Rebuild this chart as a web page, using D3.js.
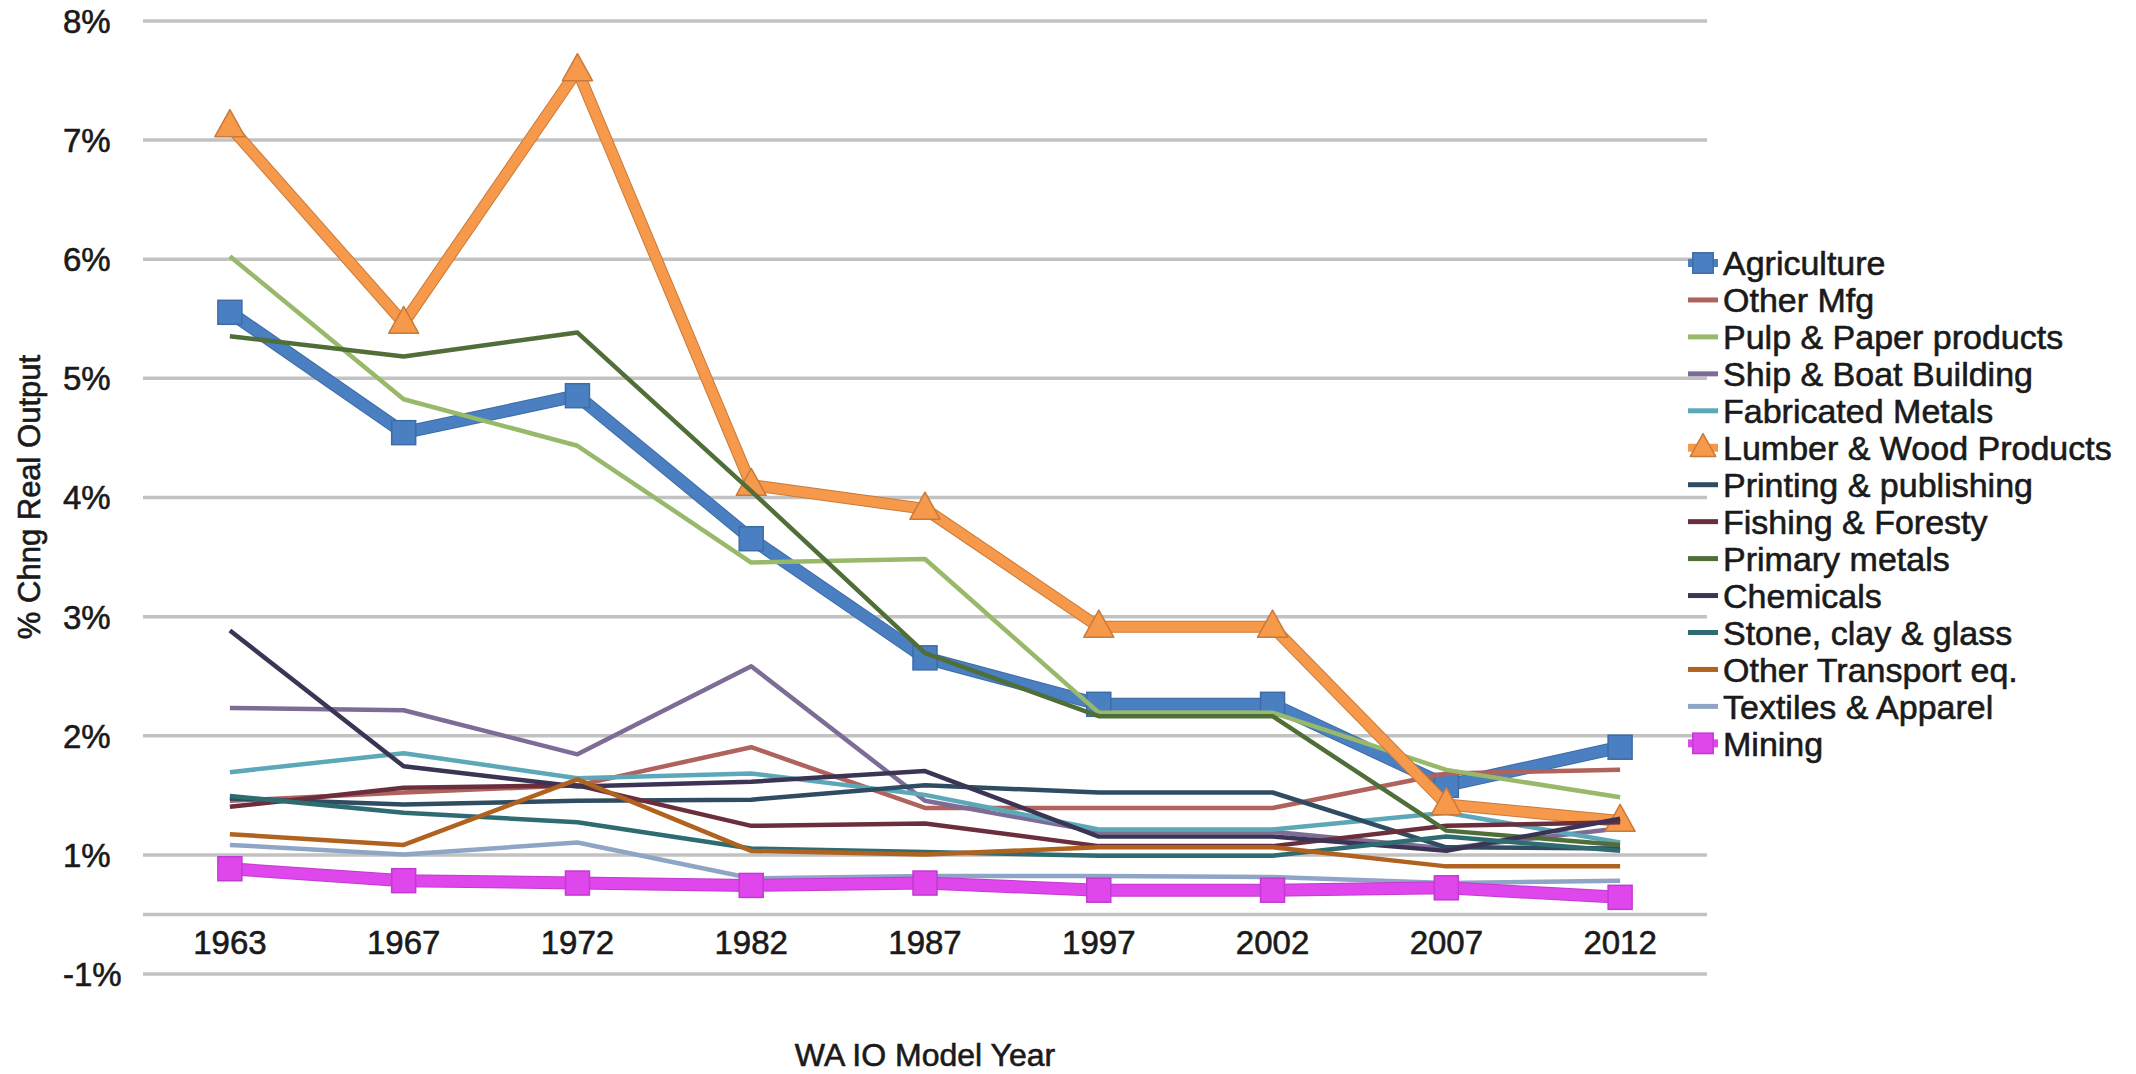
<!DOCTYPE html>
<html>
<head>
<meta charset="utf-8">
<script src="https://cdn.jsdelivr.net/npm/d3@7"></script>
<style>
  html, body { margin: 0; padding: 0; background: #fff; }
  svg { display: block; }
  text { font-family: "Liberation Sans", Arial, sans-serif; fill: #1a1a1a; stroke: #1a1a1a; stroke-width: 0.6px; }
</style>
</head>
<body>
<svg id="chart" width="2136" height="1074"></svg>
<script>
// Model years on the category axis
const years = ["1963", "1967", "1972", "1982", "1987", "1997", "2002", "2007", "2012"];

// Series names in legend order
const seriesNames = [
  "Agriculture", "Other Mfg", "Pulp & Paper products", "Ship & Boat Building",
  "Fabricated Metals", "Lumber & Wood Products", "Printing & publishing",
  "Fishing & Foresty", "Primary metals", "Chemicals", "Stone, clay & glass",
  "Other Transport eq.", "Textiles & Apparel", "Mining"
];

// % change in real output, one value per model year
const agriculture    = [5.55, 4.54, 4.85, 3.65, 2.65, 2.26, 2.26, 1.58, 1.90];
const otherMfg       = [1.45, 1.52, 1.58, 1.90, 1.39, 1.39, 1.39, 1.68, 1.71];
const pulpPaper      = [6.02, 4.82, 4.43, 3.45, 3.48, 2.19, 2.19, 1.71, 1.48];
const shipBoat       = [2.23, 2.21, 1.84, 2.58, 1.45, 1.19, 1.19, 1.05, 1.22];
const fabricated     = [1.69, 1.85, 1.64, 1.68, 1.50, 1.21, 1.21, 1.35, 1.10];
const lumberWood     = [7.11, 5.46, 7.58, 4.10, 3.90, 2.91, 2.91, 1.42, 1.28];
const printing       = [1.47, 1.42, 1.45, 1.46, 1.58, 1.52, 1.52, 1.06, 1.05];
const fishing        = [1.40, 1.56, 1.58, 1.24, 1.26, 1.07, 1.07, 1.24, 1.27];
const primaryMetals  = [5.35, 5.18, 5.38, 4.05, 2.69, 2.16, 2.16, 1.20, 1.08];
const chemicals      = [2.88, 1.74, 1.57, 1.61, 1.70, 1.15, 1.15, 1.03, 1.30];
const stoneClay      = [1.49, 1.35, 1.27, 1.05, 1.02, 0.99, 0.99, 1.15, 1.03];
const otherTransport = [1.17, 1.08, 1.63, 1.03, 1.00, 1.06, 1.06, 0.90, 0.90];
const textiles       = [1.08, 1.00, 1.10, 0.80, 0.82, 0.82, 0.81, 0.76, 0.78];
const mining         = [0.88, 0.78, 0.76, 0.74, 0.76, 0.70, 0.70, 0.72, 0.64];

const seriesValues = [
  agriculture, otherMfg, pulpPaper, shipBoat, fabricated, lumberWood, printing,
  fishing, primaryMetals, chemicals, stoneClay, otherTransport, textiles, mining
];

// Value-axis ticks and their printed labels
const yTickValues = [0, 0.5, 1, 2, 3, 4, 5, 6, 7, 8];
const yTickLabels = ["-1%", "", "1%", "2%", "3%", "4%", "5%", "6%", "7%", "8%"];

const yAxisTitle = "% Chng Real Output";
const xAxisTitle = "WA IO Model Year";

// Drawing styles per series
const styles = {
  "Agriculture":            { color: "#4A7FC1", width: 11, marker: "square", edge: "#3E6CA6" },
  "Other Mfg":              { color: "#B0625C", width: 4.5 },
  "Pulp & Paper products":  { color: "#98B86A", width: 4.5 },
  "Ship & Boat Building":   { color: "#7D6C96", width: 4.5 },
  "Fabricated Metals":      { color: "#5CA8B9", width: 4.5 },
  "Lumber & Wood Products": { color: "#F7994A", width: 10, marker: "triangle", edge: "#C97A3A" },
  "Printing & publishing":  { color: "#2F4C62", width: 4.5 },
  "Fishing & Foresty":      { color: "#6A2E3C", width: 4.5 },
  "Primary metals":         { color: "#4F6E38", width: 4.5 },
  "Chemicals":              { color: "#3C3455", width: 4.5 },
  "Stone, clay & glass":    { color: "#2F6C72", width: 4.5 },
  "Other Transport eq.":    { color: "#B0621F", width: 4.5 },
  "Textiles & Apparel":     { color: "#8FA5C6", width: 4.5 },
  "Mining":                 { color: "#DF46EC", width: 11, marker: "square", edge: "#C23BD0" }
};

const series = seriesNames.map((name, i) => ({
  name,
  points: years.map((yr, j) => ({ year: yr, value: seriesValues[i][j] }))
}));

const svg = d3.select("#chart");

const plot = { left: 143, right: 1707, top: 20.4, bottom: 973.6 };

const x = d3.scaleBand().domain(years).range([plot.left, plot.right]);
const xc = yr => x(yr) + x.bandwidth() / 2;
const y = d3.scaleLinear().domain([0, 8]).range([plot.bottom, plot.top]);

// Gridlines and value labels
const yAxis = d3.axisLeft(y)
  .tickValues(yTickValues)
  .tickSize(-(plot.right - plot.left))
  .tickFormat((d, i) => yTickLabels[i]);

const gy = svg.append("g")
  .attr("transform", `translate(${plot.left},0)`)
  .call(yAxis);
gy.select(".domain").remove();
gy.selectAll(".tick line").attr("stroke", "#c2c2c2").attr("stroke-width", 3.5);
gy.selectAll(".tick text")
  .attr("x", 63 - plot.left)
  .attr("text-anchor", "start")
  .attr("dy", "0.36em")
  .style("font-size", "33px")
  .style("fill", "#1a1a1a");

// Category labels sit between the two lowest gridlines
const xAxis = d3.axisBottom(x).tickSize(0).tickPadding(0);
const gx = svg.append("g")
  .attr("transform", `translate(0,${y(0.25) - 2})`)
  .call(xAxis);
gx.select(".domain").remove();
gx.selectAll(".tick text")
  .attr("dy", "0.36em")
  .style("font-size", "33px")
  .style("fill", "#1a1a1a");

// Axis titles
svg.append("text")
  .attr("transform", `translate(40,${(plot.top + plot.bottom) / 2}) rotate(-90)`)
  .attr("text-anchor", "middle")
  .style("font-size", "31px")
  .text(yAxisTitle);

svg.append("text")
  .attr("x", 925)
  .attr("y", 1066)
  .attr("text-anchor", "middle")
  .style("font-size", "32px")
  .text(xAxisTitle);

// Lines
const line = d3.line().x(d => xc(d.year)).y(d => y(d.value));

const sq = 24, tri = 30;
function drawMarker(g, shape, cx, cy, st, scale = 1) {
  if (shape === "square") {
    const s = sq * scale;
    g.append("rect")
      .attr("x", cx - s / 2).attr("y", cy - s / 2)
      .attr("width", s).attr("height", s)
      .attr("fill", st.color).attr("stroke", st.edge).attr("stroke-width", 1.5);
  } else if (shape === "triangle") {
    const s = tri * scale, h = s * 0.9;
    g.append("path")
      .attr("d", `M${cx},${cy - h * 0.62} L${cx + s / 2},${cy + h * 0.38} L${cx - s / 2},${cy + h * 0.38} Z`)
      .attr("fill", st.color).attr("stroke", st.edge).attr("stroke-width", 1.5)
      .attr("stroke-linejoin", "round");
  }
}

const gl = svg.append("g");
series.forEach(s => {
  const st = styles[s.name];
  const g = gl.append("g");
  if (st.edge) {
    g.append("path").datum(s.points)
      .attr("d", line).attr("fill", "none")
      .attr("stroke", st.edge).attr("stroke-width", st.width + 2)
      .attr("stroke-linejoin", "round");
  }
  g.append("path").datum(s.points)
    .attr("d", line).attr("fill", "none")
    .attr("stroke", st.color).attr("stroke-width", st.width)
    .attr("stroke-linejoin", "round").attr("stroke-linecap", "butt");
  if (st.marker) {
    s.points.forEach(p => drawMarker(g, st.marker, xc(p.year), y(p.value), st));
  }
});

// Legend
const legTop = 263, legStep = 36.95, swX0 = 1688, swX1 = 1718, legText = 1723;
const gleg = svg.append("g");
seriesNames.forEach((name, i) => {
  const st = styles[name];
  const cy = legTop + i * legStep;
  gleg.append("line")
    .attr("x1", swX0).attr("x2", swX1).attr("y1", cy).attr("y2", cy)
    .attr("stroke", st.color).attr("stroke-width", st.marker ? 8 : 5);
  if (st.marker) drawMarker(gleg, st.marker, (swX0 + swX1) / 2, cy, st, 0.85);
  gleg.append("text")
    .attr("x", legText).attr("y", cy)
    .attr("dy", "0.36em")
    .style("font-size", "34px")
    .text(name);
});
</script>
</body>
</html>
